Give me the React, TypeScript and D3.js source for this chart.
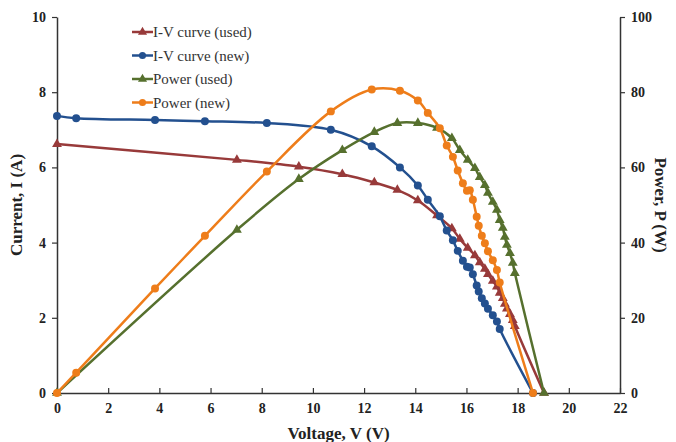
import React, { useRef, useEffect } from 'react';
import * as d3 from 'd3';

// used module
const usedVoltage = [0, 7.03, 9.45, 11.15, 12.4, 13.3, 14.1, 14.85, 15.43, 15.74, 16.05, 16.33, 16.52, 16.72, 16.84, 17.03, 17.19, 17.3, 17.42, 17.5, 17.58, 17.7, 17.81, 17.89, 19.03];
const usedCurrent = [6.62, 6.2, 6.02, 5.82, 5.6, 5.4, 5.12, 4.72, 4.38, 4.1, 3.86, 3.66, 3.47, 3.3, 3.16, 2.98, 2.83, 2.66, 2.52, 2.37, 2.24, 2.1, 1.94, 1.78, 0];
const usedPower = [0, 43.4, 56.9, 64.6, 69.4, 71.8, 71.8, 70.5, 67.8, 64.6, 62.0, 59.8, 57.4, 55.3, 53.2, 50.8, 48.7, 46.0, 43.9, 41.5, 39.4, 37.2, 34.6, 31.9, 0];

// new module
const newVoltage = [0, 0.75, 3.83, 5.78, 8.2, 10.7, 12.3, 13.4, 14.1, 14.49, 14.96, 15.23, 15.47, 15.66, 15.86, 16.02, 16.13, 16.25, 16.4, 16.48, 16.6, 16.72, 16.84, 17.03, 17.19, 17.3, 18.6];
const newCurrent = [7.37, 7.31, 7.26, 7.23, 7.18, 7.0, 6.56, 6.0, 5.52, 5.14, 4.7, 4.32, 4.06, 3.78, 3.52, 3.36, 3.34, 3.16, 2.86, 2.7, 2.52, 2.38, 2.24, 2.07, 1.9, 1.7, 0];
const newPower = [0, 5.4, 27.8, 41.8, 58.9, 74.9, 80.7, 80.4, 77.8, 74.5, 70.4, 65.8, 62.8, 59.2, 55.8, 53.8, 53.9, 51.4, 46.9, 44.5, 41.8, 39.8, 37.7, 35.3, 32.7, 29.4, 0];

const xTicks = [0, 2, 4, 6, 8, 10, 12, 14, 16, 18, 20, 22];
const currentTicks = [0, 2, 4, 6, 8, 10];
const powerTicks = [0, 20, 40, 60, 80, 100];

const seriesNames = ['I-V curve (used)', 'I-V curve (new)', 'Power (used)', 'Power (new)'];
const colors = ['#983a3a', '#23508f', '#56702e', '#ee7d1a'];

const width = 676;
const height = 442;
const margin = { top: 17, right: 56, bottom: 49, left: 57 };
const font = '"Liberation Serif", "Times New Roman", serif';

const App = () => {
  const svgRef = useRef<SVGSVGElement>(null);

  useEffect(() => {
    const svg = d3.select(svgRef.current);
    svg.selectAll('*').remove();

    const x = d3.scaleLinear().domain([0, 22]).range([margin.left, width - margin.right]);
    const yI = d3.scaleLinear().domain([0, 10]).range([height - margin.bottom, margin.top]);
    const yP = d3.scaleLinear().domain([0, 100]).range([height - margin.bottom, margin.top]);

    const series = [
      { v: usedVoltage, y: usedCurrent, scale: yI, marker: 'tri' },
      { v: newVoltage, y: newCurrent, scale: yI, marker: 'circle' },
      { v: usedVoltage, y: usedPower, scale: yP, marker: 'tri' },
      { v: newVoltage, y: newPower, scale: yP, marker: 'circle' },
    ];

    // axes
    const xAxis = d3.axisBottom(x).tickValues(xTicks).tickSizeInner(-5).tickSizeOuter(0).tickPadding(10);
    const gx = svg.append('g').attr('transform', `translate(0,${height - margin.bottom})`).call(xAxis);

    const yAxis = d3.axisLeft(yI).tickValues(currentTicks).tickSize(5).tickSizeOuter(0).tickPadding(6);
    const gy = svg.append('g').attr('transform', `translate(${margin.left},0)`).call(yAxis);

    const pAxis = d3.axisRight(yP).tickValues(powerTicks).tickSize(5).tickSizeOuter(0).tickPadding(6);
    const gp = svg.append('g').attr('transform', `translate(${width - margin.right},0)`).call(pAxis);

    [gx, gy, gp].forEach(g => {
      g.select('.domain').attr('stroke', '#333').attr('stroke-width', 1.5);
      g.selectAll('.tick line').attr('stroke', '#333').attr('stroke-width', 1.2);
      g.selectAll('.tick text')
        .attr('fill', '#222')
        .style('font-family', font)
        .style('font-size', '14px')
        .style('font-weight', 'bold');
    });

    // lines + markers
    series.forEach((s, i) => {
      const pts = s.v.map((v, j) => [x(v), s.scale(s.y[j])] as [number, number]);
      const path = d3.line().curve(d3.curveCatmullRom.alpha(0.5));
      svg.append('path')
        .attr('d', path(pts))
        .attr('fill', 'none')
        .attr('stroke', colors[i])
        .attr('stroke-width', 2.5);

      const sym = d3.symbol().type(s.marker === 'tri' ? d3.symbolTriangle : d3.symbolCircle).size(s.marker === 'tri' ? 42 : 50);
      svg.append('g').selectAll('path')
        .data(pts)
        .join('path')
        .attr('d', sym())
        .attr('transform', d => `translate(${d[0]},${d[1]})`)
        .attr('fill', colors[i]);
    });

    // legend
    const legend = svg.append('g');
    seriesNames.forEach((name, i) => {
      const ly = 32 + i * 23.5;
      legend.append('line')
        .attr('x1', 132).attr('x2', 153).attr('y1', ly).attr('y2', ly)
        .attr('stroke', colors[i]).attr('stroke-width', 2.5);
      const sym = d3.symbol().type(i % 2 === 0 ? d3.symbolTriangle : d3.symbolCircle).size(i % 2 === 0 ? 36 : 40);
      legend.append('path')
        .attr('d', sym())
        .attr('transform', `translate(142.5,${ly})`)
        .attr('fill', colors[i]);
      legend.append('text')
        .attr('x', 153).attr('y', ly + 5)
        .attr('fill', '#333')
        .style('font-family', font)
        .style('font-size', '15px')
        .text(name);
    });

    // axis titles
    svg.append('text')
      .attr('transform', `translate(22,${(margin.top + height - margin.bottom) / 2}) rotate(-90)`)
      .attr('text-anchor', 'middle')
      .attr('fill', '#222')
      .style('font-family', font).style('font-size', '17px').style('font-weight', 'bold')
      .text('Current, I (A)');

    svg.append('text')
      .attr('transform', `translate(655,${(margin.top + height - margin.bottom) / 2}) rotate(90)`)
      .attr('text-anchor', 'middle')
      .attr('fill', '#222')
      .style('font-family', font).style('font-size', '17px').style('font-weight', 'bold')
      .text('Power, P (W)');

    svg.append('text')
      .attr('x', (margin.left + width - margin.right) / 2)
      .attr('y', 439)
      .attr('text-anchor', 'middle')
      .attr('fill', '#222')
      .style('font-family', font).style('font-size', '17px').style('font-weight', 'bold')
      .text('Voltage, V (V)');
  }, []);

  return (
    <svg
      ref={svgRef}
      width={width}
      height={height}
      style={{ position: 'absolute', left: 0, top: 0, background: '#fff' }}
    />
  );
};

export default App;
